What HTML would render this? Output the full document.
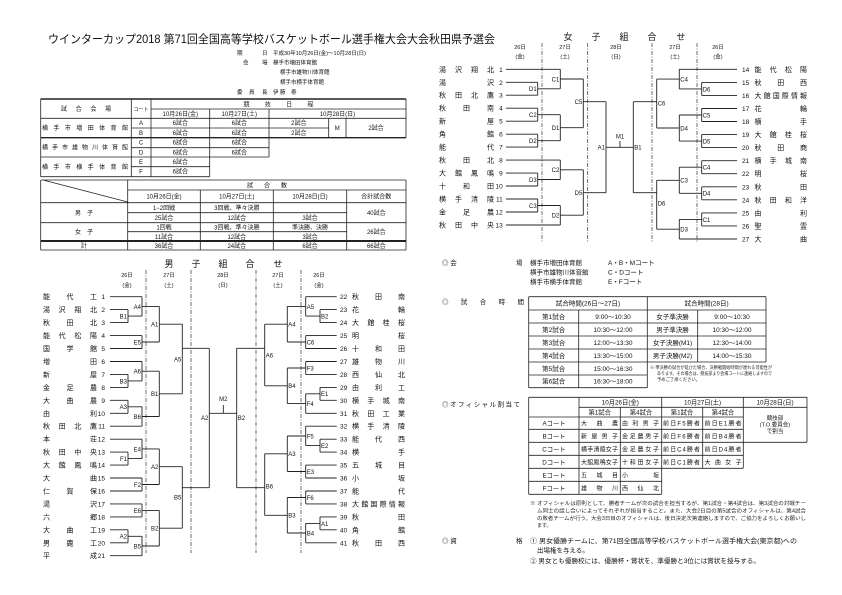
<!DOCTYPE html>
<html><head><meta charset="utf-8"><style>
html,body{margin:0;padding:0;background:#fff;}
svg{display:block;font-family:"Liberation Sans","Noto Sans CJK JP",sans-serif;}
</style></head><body>
<svg width="842" height="595" viewBox="0 0 842 595" xmlns="http://www.w3.org/2000/svg">
<rect width="842" height="595" fill="#fff"/>
<g fill="#111">
<text x="48" y="43" font-size="11.5" textLength="447" lengthAdjust="spacingAndGlyphs">ウインターカップ2018 第71回全国高等学校バスケットボール選手権大会大会秋田県予選会</text>
<g font-size="5.5">
<text x="237" y="55">期</text><text x="262" y="55">日</text><text x="273" y="55">平成30年10月26日(金)〜10月28日(日)</text>
<text x="243" y="64.5">会</text><text x="262" y="64.5">場</text><text x="273" y="64.5">横手市増田体育館</text>
<text x="280" y="74">横手市雄物川体育館</text><text x="280" y="84">横手市横手体育館</text>
<text x="237" y="94">委</text><text x="249" y="94">員</text><text x="262" y="94">長</text><text x="273" y="94">伊 藤　泰</text>
</g>
</g>

<!-- Table 1 -->
<g stroke="#222" stroke-width="0.8" fill="none">
<path d="M40.7 99H406M151 109H406M40.7 118.3H406M131.3 128H328.7M131.3 147.7H269M40.7 157H269M131.3 166.7H209.7M40.7 176.7H209.7
M40.7 99V176.7M131.3 99V176.7M151 99V176.7M209.7 109V176.7M269 109V157M328.7 118.3V137.7M346 118.3V137.7M406 99V137.7"/>
<path d="M40.7 99H406M40.7 137.7H406" stroke-width="1.4"/>
</g>
<g font-size="6" fill="#111" text-anchor="middle">
<text x="86" y="111" textLength="50" lengthAdjust="spacing">試合会場</text>
<text x="141" y="111" font-size="5">コート</text>
<text x="278.5" y="106.5" textLength="70" lengthAdjust="spacing">競技日程</text>
<text x="180.3" y="116">10月26日(金)</text><text x="239.3" y="116">10月27日(土)</text><text x="337.5" y="116">10月28日(日)</text>
<text x="141" y="125.2">A</text><text x="180.3" y="125.2">6試合</text><text x="239.3" y="125.2">6試合</text><text x="298.8" y="125.2">2試合</text>
<text x="141" y="134.8">B</text><text x="180.3" y="134.8">6試合</text><text x="239.3" y="134.8">6試合</text><text x="298.8" y="134.8">2試合</text>
<text x="337.3" y="130">M</text><text x="376" y="130">2試合</text>
<text x="141" y="144.7">C</text><text x="180.3" y="144.7">6試合</text><text x="239.3" y="144.7">6試合</text>
<text x="141" y="154.3">D</text><text x="180.3" y="154.3">6試合</text><text x="239.3" y="154.3">6試合</text>
<text x="141" y="163.8">E</text><text x="180.3" y="163.8">6試合</text>
<text x="141" y="173.7">F</text><text x="180.3" y="173.7">6試合</text>
</g>
<g font-size="6" fill="#111">
<text x="42" y="130" textLength="86" lengthAdjust="spacing">横手市増田体育館</text>
<text x="42" y="149.5" textLength="86" lengthAdjust="spacing">横手市雄物川体育館</text>
<text x="42" y="169" textLength="86" lengthAdjust="spacing">横手市横手体育館</text>
</g>

<!-- Table 2 -->
<g stroke="#222" stroke-width="0.8" fill="none">
<path d="M40.7 180H406M127.7 190H406M40.7 202.7H406M127.7 212.7H346.7M40.7 222.7H406M127.7 231.7H346.7M40.7 250H406
M40.7 180V250M127.7 180V250M406 180V250M200.3 190V250M273.3 190V250M346.7 190V250M43 180L127.7 202"/>
<path d="M40.7 241H406" stroke-width="2"/>
</g>
<g font-size="6" fill="#111" text-anchor="middle">
<text x="267" y="187.5" textLength="40" lengthAdjust="spacing">試合数</text>
<text x="164" y="198.5">10月26日(金)</text><text x="236.8" y="198.5">10月27日(土)</text><text x="310" y="198.5">10月28日(日)</text><text x="376.3" y="198.5">合計試合数</text>
<text x="84" y="215">男　子</text>
<text x="164" y="210">1−2回戦</text><text x="236.8" y="210">3回戦、準々決勝</text>
<text x="164" y="220">25試合</text><text x="236.8" y="220">12試合</text><text x="310" y="220">3試合</text><text x="376.3" y="215">40試合</text>
<text x="84" y="234">女　子</text>
<text x="164" y="229.5">1回戦</text><text x="236.8" y="229.5">3回戦、準々決勝</text><text x="310" y="229.5">準決勝、決勝</text>
<text x="164" y="239">11試合</text><text x="236.8" y="239">12試合</text><text x="310" y="239">3試合</text><text x="376.3" y="234">26試合</text>
<text x="84" y="248">計</text><text x="164" y="248">36試合</text><text x="236.8" y="248">24試合</text><text x="310" y="248">6試合</text><text x="376.3" y="248">66試合</text>
</g>

<!-- Boys bracket -->
<g stroke="#333" stroke-width="0.7" stroke-dasharray="4 1.5 1 1.5" fill="none">
<path d="M146 270V553M191 270V553M256 270V553M301 270V553"/>
<path d="M542 43V243M587.7 43V243M652 43V243M697 43V243"/>
</g>
<g font-size="9" fill="#111" text-anchor="middle">
<text x="169" y="267">男</text><text x="196" y="267">子</text><text x="223" y="267">組</text><text x="250" y="267">合</text><text x="278" y="267">せ</text>
<text x="568" y="40">女</text><text x="596" y="40">子</text><text x="624" y="40">組</text><text x="652" y="40">合</text><text x="681" y="40">せ</text>
</g>
<g font-size="5.5" fill="#111" text-anchor="middle">
<text x="127" y="277">26日</text><text x="127" y="287">(金)</text>
<text x="169" y="277">27日</text><text x="169" y="287">(土)</text>
<text x="223" y="277">28日</text><text x="223" y="287">(日)</text>
<text x="278" y="277">27日</text><text x="278" y="287">(土)</text>
<text x="319" y="277">26日</text><text x="319" y="287">(金)</text>
<text x="520" y="49">26日</text><text x="520" y="58.5">(金)</text>
<text x="565" y="49">27日</text><text x="565" y="58.5">(土)</text>
<text x="616" y="49">28日</text><text x="616" y="58.5">(日)</text>
<text x="675" y="49">27日</text><text x="675" y="58.5">(土)</text>
<text x="718" y="49">26日</text><text x="718" y="58.5">(金)</text>
</g>

<g stroke="#222" stroke-width="0.9" fill="none">
<path d="M110 296.7H142M110 309.6H128M110 322.6H128M110 335.6H142M110 348.5H142M110 361.5H142M110 374.4H128M110 387.4H128M110 400.3H128M110 413.3H128M110 426.2H142M110 439.2H142M110 452.1H128M110 465.1H128M110 478H142M110 491H142M110 503.9H142M110 516.9H142M110 529.8H128M110 542.8H128M110 555.7H142
M128 309.6V322.6M128 316.1H142M128 374.4V387.4M128 380.9H142M128 400.3V413.3M128 406.8H142M128 452.1V465.1M128 458.6H142M128 529.8V542.8M128 536.3H142
M142 296.7V316.1M142 306.4H159.3M142 335.6V348.5M142 342H159.3M142 361.5V380.9M142 371.2H159.3M142 406.8V426.2M142 416.5H159.3M142 439.2V458.6M142 448.9H159.3M142 478V491M142 484.5H159.3M142 503.9V516.9M142 510.4H159.3M142 536.3V555.7M142 546H159.3
M159.3 306.4V342M159.3 324.2H182.3M159.3 371.2V416.5M159.3 393.8H182.3M159.3 448.9V484.5M159.3 466.7H182.3M159.3 510.4V546M159.3 528.2H182.3
M182.3 324.2V393.8M182.3 348.3H209.3M182.3 466.7V528.2M182.3 487.7H209.3
M209.3 348.3V487.7M209.3 413.3H236.7M223.3 405V413.3M236.7 348.3V487.7M236.7 348.3H264.7M236.7 487.7H264.7
M264.7 324.2V385.8M264.7 324.2H287.3M264.7 385.8H287.3M264.7 453.8V515.3M264.7 453.8H287.3M264.7 515.3H287.3
M287.3 306.4V342M287.3 368V403.6M287.3 436V471.5M287.3 497.5V533
M287.3 306.4H305.7M287.3 342H305.7M287.3 368H305.7M287.3 403.6H305.7M287.3 436H305.7M287.3 471.5H305.7M287.3 497.5H305.7M287.3 533H305.7
M305.7 296.7V316.1M305.7 335.6V348.5M305.7 361.5V374.4M305.7 393.8V413.3M305.7 426.2V445.6M305.7 465.1V478M305.7 491V503.9M305.7 523.4V542.8
M305.7 316.1H320M305.7 393.8H320M305.7 445.6H320M305.7 523.4H320
M320 309.6V322.6M320 387.4V400.3M320 439.2V452.1M320 516.9V529.8
M305.7 296.7H336.7M320 309.6H336.7M320 322.6H336.7M305.7 335.6H336.7M305.7 348.5H336.7M305.7 361.5H336.7M305.7 374.4H336.7M320 387.4H336.7M320 400.3H336.7M305.7 413.3H336.7M305.7 426.2H336.7M320 439.2H336.7M320 452.1H336.7M305.7 465.1H336.7M305.7 478H336.7M305.7 491H336.7M305.7 503.9H336.7M320 516.9H336.7M320 529.8H336.7M305.7 542.8H336.7"/>
<path d="M506 69.3H560.3M506 82.3H537.7M506 95.2H537.7M506 108.2H537.7M506 121.2H537.7M506 134.2H537.7M506 147.1H537.7M506 160.1H560.3M506 173.1H537.7M506 186H537.7M506 199H537.7M506 212H537.7M506 225H560.3
M537.7 82.3V95.2M537.7 88.8H560.3M537.7 108.2V121.2M537.7 114.7H560.3M537.7 134.2V147.1M537.7 140.7H560.3M537.7 173.1V186M537.7 179.5H560.3M537.7 199V212M537.7 205.5H560.3
M560.3 69.3V88.8M560.3 79H583.3M560.3 114.7V140.7M560.3 127.7H583.3M560.3 160.1V179.5M560.3 169.8H583.3M560.3 205.5V225M560.3 215.2H583.3
M583.3 79V127.7M583.3 101.7H606M583.3 169.8V215.2M583.3 192.7H606
M606 101.7V192.7M606 147.3H633.3M620 141V147.3M633.3 101.7V192.7M633.3 101.7H656.7M633.3 192.7H656.7
M656.7 79.1V128M656.7 79.1H679.3M656.7 128H679.3M656.7 180.3V229.2M656.7 180.3H679.3M656.7 229.2H679.3
M679.3 69.3V88.9M679.3 115V141.1M679.3 167.2V193.3M679.3 219.4V239
M679.3 88.9H701.7M679.3 115H701.7M679.3 141.1H701.7M679.3 167.2H701.7M679.3 193.3H701.7M679.3 219.4H701.7
M701.7 82.4V95.4M701.7 108.5V121.5M701.7 134.6V147.6M701.7 160.7V173.7M701.7 186.8V199.8M701.7 212.9V225.9
M679.3 69.3H737M701.7 82.4H737M701.7 95.4H737M701.7 108.5H737M701.7 121.5H737M701.7 134.6H737M701.7 147.6H737M701.7 160.7H737M701.7 173.7H737M701.7 186.8H737M701.7 199.8H737M701.7 212.9H737M701.7 225.9H737M679.3 239H737"/>
</g>

<!-- bracket labels -->
<g font-size="6" fill="#111" text-anchor="end">
<text x="127" y="318.5">B1</text><text x="127" y="383.3">B3</text><text x="127" y="409.2">A3</text><text x="127" y="461">F1</text><text x="127" y="538.7">A2</text>
<text x="141" y="308.8">A4</text><text x="141" y="344.4">E5</text><text x="141" y="373.6">A6</text><text x="141" y="418.9">B6</text><text x="141" y="451.3">E4</text><text x="141" y="486.9">F2</text><text x="141" y="512.8">E6</text><text x="141" y="548.4">B5</text>
<text x="158.3" y="326.6">A1</text><text x="158.3" y="396.2">B1</text><text x="158.3" y="469.1">A2</text><text x="158.3" y="530.6">B2</text>
<text x="181.3" y="361.4">A5</text><text x="181.3" y="499.4">B5</text>
<text x="208.3" y="420">A2</text>
<text x="536.7" y="91.2">D1</text><text x="536.7" y="117.1">C2</text><text x="536.7" y="143.1">D2</text><text x="536.7" y="181.9">D3</text><text x="536.7" y="207.9">C3</text>
<text x="559.3" y="81.4">C1</text><text x="559.3" y="130.1">D1</text><text x="559.3" y="172.2">C2</text><text x="559.3" y="217.6">D2</text>
<text x="582.3" y="104.1">C5</text><text x="582.3" y="195.1">D5</text>
<text x="605" y="149.7">A1</text>
</g>
<g font-size="6" fill="#111" text-anchor="start">
<text x="237.7" y="420">B2</text>
<text x="265.7" y="357.4">A6</text><text x="265.7" y="488.4">B6</text>
<text x="288.3" y="326.6">A4</text><text x="288.3" y="388.2">B4</text><text x="288.3" y="456.2">A3</text><text x="288.3" y="517.7">B3</text>
<text x="306.7" y="308.8">A5</text><text x="306.7" y="344.4">C6</text><text x="306.7" y="370.4">F3</text><text x="306.7" y="406">F4</text><text x="306.7" y="438.4">F5</text><text x="306.7" y="473.9">E3</text><text x="306.7" y="499.9">F6</text><text x="306.7" y="535.4">B4</text>
<text x="321" y="318.5">B2</text><text x="321" y="396.2">E1</text><text x="321" y="448">E2</text><text x="321" y="525.8">A1</text>
<text x="634.3" y="149.7">B1</text>
<text x="657.7" y="105.4">C6</text><text x="657.7" y="205.4">D6</text>
<text x="680.3" y="81.5">C4</text><text x="680.3" y="130.4">D4</text><text x="680.3" y="182.7">C3</text><text x="680.3" y="231.6">D3</text>
<text x="702.7" y="91.3">D6</text><text x="702.7" y="117.4">C5</text><text x="702.7" y="143.5">D5</text><text x="702.7" y="169.6">C4</text><text x="702.7" y="195.7">D4</text><text x="702.7" y="221.8">C1</text>
</g>
<g font-size="6" fill="#111" text-anchor="middle">
<text x="223.3" y="401">M2</text><text x="620" y="138.5">M1</text>
</g>

<!-- boys left names -->
<g font-size="7" fill="#111">
<text x="43" y="299.2" textLength="54" lengthAdjust="spacing">能代工</text>
<text x="43" y="312.1" textLength="54" lengthAdjust="spacing">湯沢翔北</text>
<text x="43" y="325.1" textLength="54" lengthAdjust="spacing">秋田北</text>
<text x="43" y="338.1" textLength="54" lengthAdjust="spacing">能代松陽</text>
<text x="43" y="351" textLength="54" lengthAdjust="spacing">国学館</text>
<text x="43" y="364" textLength="54" lengthAdjust="spacing">増田</text>
<text x="43" y="376.9" textLength="54" lengthAdjust="spacing">新屋</text>
<text x="43" y="389.9" textLength="54" lengthAdjust="spacing">金足農</text>
<text x="43" y="402.8" textLength="54" lengthAdjust="spacing">大曲農</text>
<text x="43" y="415.8" textLength="54" lengthAdjust="spacing">由利</text>
<text x="43" y="428.7" textLength="54" lengthAdjust="spacing">秋田北鷹</text>
<text x="43" y="441.7" textLength="54" lengthAdjust="spacing">本荘</text>
<text x="43" y="454.6" textLength="54" lengthAdjust="spacing">秋田中央</text>
<text x="43" y="467.6" textLength="54" lengthAdjust="spacing">大館鳳鳴</text>
<text x="43" y="480.5" textLength="54" lengthAdjust="spacing">大曲</text>
<text x="43" y="493.5" textLength="54" lengthAdjust="spacing">仁賀保</text>
<text x="43" y="506.4" textLength="54" lengthAdjust="spacing">湯沢</text>
<text x="43" y="519.4" textLength="54" lengthAdjust="spacing">六郷</text>
<text x="43" y="532.3" textLength="54" lengthAdjust="spacing">大曲工</text>
<text x="43" y="545.3" textLength="54" lengthAdjust="spacing">男鹿工</text>
<text x="43" y="558.2" textLength="54" lengthAdjust="spacing">平成</text>
</g>
<g font-size="6.5" fill="#111" text-anchor="end">
<text x="105" y="299.2">1</text><text x="105" y="312.1">2</text><text x="105" y="325.1">3</text><text x="105" y="338.1">4</text><text x="105" y="351">5</text><text x="105" y="364">6</text><text x="105" y="376.9">7</text><text x="105" y="389.9">8</text><text x="105" y="402.8">9</text><text x="105" y="415.8">10</text><text x="105" y="428.7">11</text><text x="105" y="441.7">12</text><text x="105" y="454.6">13</text><text x="105" y="467.6">14</text><text x="105" y="480.5">15</text><text x="105" y="493.5">16</text><text x="105" y="506.4">17</text><text x="105" y="519.4">18</text><text x="105" y="532.3">19</text><text x="105" y="545.3">20</text><text x="105" y="558.2">21</text>
<text x="502.7" y="71.8">1</text><text x="502.7" y="84.8">2</text><text x="502.7" y="97.7">3</text><text x="502.7" y="110.7">4</text><text x="502.7" y="123.7">5</text><text x="502.7" y="136.7">6</text><text x="502.7" y="149.6">7</text><text x="502.7" y="162.6">8</text><text x="502.7" y="175.6">9</text><text x="502.7" y="188.5">10</text><text x="502.7" y="201.5">11</text><text x="502.7" y="214.5">12</text><text x="502.7" y="227.5">13</text>
</g>
<g font-size="6.5" fill="#111">
<text x="340" y="299.2">22</text><text x="340" y="312.1">23</text><text x="340" y="325.1">24</text><text x="340" y="338.1">25</text><text x="340" y="351">26</text><text x="340" y="364">27</text><text x="340" y="376.9">28</text><text x="340" y="389.9">29</text><text x="340" y="402.8">30</text><text x="340" y="415.8">31</text><text x="340" y="428.7">32</text><text x="340" y="441.7">33</text><text x="340" y="454.6">34</text><text x="340" y="467.6">35</text><text x="340" y="480.5">36</text><text x="340" y="493.5">37</text><text x="340" y="506.4">38</text><text x="340" y="519.4">39</text><text x="340" y="532.3">40</text><text x="340" y="545.3">41</text>
<text x="742" y="71.8">14</text><text x="742" y="84.9">15</text><text x="742" y="97.9">16</text><text x="742" y="111">17</text><text x="742" y="124">18</text><text x="742" y="137.1">19</text><text x="742" y="150.1">20</text><text x="742" y="163.2">21</text><text x="742" y="176.2">22</text><text x="742" y="189.3">23</text><text x="742" y="202.3">24</text><text x="742" y="215.4">25</text><text x="742" y="228.4">26</text><text x="742" y="241.5">27</text>
</g>
<g font-size="7" fill="#111">
<text x="352" y="299.2" textLength="53" lengthAdjust="spacing">秋田南</text>
<text x="352" y="312.1" textLength="53" lengthAdjust="spacing">花輪</text>
<text x="352" y="325.1" textLength="53" lengthAdjust="spacing">大館桂桜</text>
<text x="352" y="338.1" textLength="53" lengthAdjust="spacing">明桜</text>
<text x="352" y="351" textLength="53" lengthAdjust="spacing">十和田</text>
<text x="352" y="364" textLength="53" lengthAdjust="spacing">雄物川</text>
<text x="352" y="376.9" textLength="53" lengthAdjust="spacing">西仙北</text>
<text x="352" y="389.9" textLength="53" lengthAdjust="spacing">由利工</text>
<text x="352" y="402.8" textLength="53" lengthAdjust="spacing">横手城南</text>
<text x="352" y="415.8" textLength="53" lengthAdjust="spacing">秋田工業</text>
<text x="352" y="428.7" textLength="53" lengthAdjust="spacing">横手清陵</text>
<text x="352" y="441.7" textLength="53" lengthAdjust="spacing">能代西</text>
<text x="352" y="454.6" textLength="53" lengthAdjust="spacing">横手</text>
<text x="352" y="467.6" textLength="53" lengthAdjust="spacing">五城目</text>
<text x="352" y="480.5" textLength="53" lengthAdjust="spacing">小坂</text>
<text x="352" y="493.5" textLength="53" lengthAdjust="spacing">能代</text>
<text x="352" y="506.4" textLength="53" lengthAdjust="spacing">大館国際情報</text>
<text x="352" y="519.4" textLength="53" lengthAdjust="spacing">秋田</text>
<text x="352" y="532.3" textLength="53" lengthAdjust="spacing">角館</text>
<text x="352" y="545.3" textLength="53" lengthAdjust="spacing">秋田西</text>
<!-- girls left -->
<text x="439" y="71.8" textLength="55" lengthAdjust="spacing">湯沢翔北</text>
<text x="439" y="84.8" textLength="55" lengthAdjust="spacing">湯沢</text>
<text x="439" y="97.7" textLength="55" lengthAdjust="spacing">秋田北鷹</text>
<text x="439" y="110.7" textLength="55" lengthAdjust="spacing">秋田南</text>
<text x="439" y="123.7" textLength="55" lengthAdjust="spacing">新屋</text>
<text x="439" y="136.7" textLength="55" lengthAdjust="spacing">角館</text>
<text x="439" y="149.6" textLength="55" lengthAdjust="spacing">能代</text>
<text x="439" y="162.6" textLength="55" lengthAdjust="spacing">秋田北</text>
<text x="439" y="175.6" textLength="55" lengthAdjust="spacing">大館鳳鳴</text>
<text x="439" y="188.5" textLength="55" lengthAdjust="spacing">十和田</text>
<text x="439" y="201.5" textLength="55" lengthAdjust="spacing">横手清陵</text>
<text x="439" y="214.5" textLength="55" lengthAdjust="spacing">金足農</text>
<text x="439" y="227.5" textLength="55" lengthAdjust="spacing">秋田中央</text>
<!-- girls right -->
<text x="754.5" y="71.8" textLength="52.5" lengthAdjust="spacing">能代松陽</text>
<text x="754.5" y="84.9" textLength="52.5" lengthAdjust="spacing">秋田西</text>
<text x="754.5" y="97.9" textLength="52.5" lengthAdjust="spacing">大館国際情報</text>
<text x="754.5" y="111" textLength="52.5" lengthAdjust="spacing">花輪</text>
<text x="754.5" y="124" textLength="52.5" lengthAdjust="spacing">横手</text>
<text x="754.5" y="137.1" textLength="52.5" lengthAdjust="spacing">大館桂桜</text>
<text x="754.5" y="150.1" textLength="52.5" lengthAdjust="spacing">秋田商</text>
<text x="754.5" y="163.2" textLength="52.5" lengthAdjust="spacing">横手城南</text>
<text x="754.5" y="176.2" textLength="52.5" lengthAdjust="spacing">明桜</text>
<text x="754.5" y="189.3" textLength="52.5" lengthAdjust="spacing">秋田</text>
<text x="754.5" y="202.3" textLength="52.5" lengthAdjust="spacing">秋田和洋</text>
<text x="754.5" y="215.4" textLength="52.5" lengthAdjust="spacing">由利</text>
<text x="754.5" y="228.4" textLength="52.5" lengthAdjust="spacing">聖霊</text>
<text x="754.5" y="241.5" textLength="52.5" lengthAdjust="spacing">大曲</text>
</g>

<!-- Bottom right info -->
<g font-size="6.5" fill="#111">
<text x="442" y="265">◎ 会</text><text x="516" y="265">場</text>
<text x="530" y="265">横手市増田体育館</text><text x="608" y="265">A・B・Mコート</text>
<text x="530" y="274.5">横手市雄物川体育館</text><text x="608" y="274.5">C・Dコート</text>
<text x="530" y="284">横手市横手体育館</text><text x="608" y="284">E・Fコート</text>
<text x="442" y="304" textLength="82" lengthAdjust="spacing">◎試合時間</text>
<text x="442" y="406.5" textLength="78" lengthAdjust="spacing">◎オフィシャル割当て</text>
<text x="442" y="543">◎ 資</text><text x="516" y="543">格</text>
<text x="530" y="543" textLength="267" lengthAdjust="spacingAndGlyphs">① 男女優勝チームに、第71回全国高等学校バスケットボール選手権大会(東京都)への</text>
<text x="537" y="552.5">出場権を与える。</text>
<text x="530" y="563" textLength="230" lengthAdjust="spacingAndGlyphs">② 男女とも優勝校には、優勝杯・賞状を、準優勝と3位には賞状を授与する。</text>
</g>

<!-- Time table -->
<g stroke="#222" stroke-width="0.8" fill="none">
<path d="M528.7 296.7H766M528.7 310H766M528.7 323H766M528.7 336H766M528.7 349H766M528.7 362H766M528.7 375H647.3M528.7 387.7H647.3
M528.7 296.7V387.7M578.7 310V387.7M647.3 296.7V387.7M697.7 310V362M766 296.7V362"/>
</g>
<g font-size="6.5" fill="#111" text-anchor="middle">
<text x="588" y="305.5">試合時間(26日〜27日)</text><text x="706.6" y="305.5">試合時間(28日)</text>
<text x="553.7" y="318.8">第1試合</text><text x="613" y="318.8">9:00〜10:30</text><text x="672.5" y="318.8">女子準決勝</text><text x="732" y="318.8">9:00〜10:30</text>
<text x="553.7" y="331.8">第2試合</text><text x="613" y="331.8">10:30〜12:00</text><text x="672.5" y="331.8">男子準決勝</text><text x="732" y="331.8">10:30〜12:00</text>
<text x="553.7" y="344.8">第3試合</text><text x="613" y="344.8">12:00〜13:30</text><text x="672.5" y="344.8">女子決勝(M1)</text><text x="732" y="344.8">12:30〜14:00</text>
<text x="553.7" y="357.8">第4試合</text><text x="613" y="357.8">13:30〜15:00</text><text x="672.5" y="357.8">男子決勝(M2)</text><text x="732" y="357.8">14:00〜15:30</text>
<text x="553.7" y="370.8">第5試合</text><text x="613" y="370.8">15:00〜16:30</text>
<text x="553.7" y="383.6">第6試合</text><text x="613" y="383.6">16:30〜18:00</text>
</g>
<g font-size="4.3" fill="#222">
<text x="650" y="369" textLength="122" lengthAdjust="spacingAndGlyphs">※ 準決勝の試合が延びた場合、決勝戦開始時間が遅れる可能性が</text>
<text x="657" y="375" textLength="115" lengthAdjust="spacingAndGlyphs">あります。その場合は、競技部より会場コートに連絡しますので</text>
<text x="657" y="381">予めご了承ください。</text>
</g>

<!-- Officials table -->
<g stroke="#222" stroke-width="0.8" fill="none">
<path d="M528.7 397.3H807M579 407.3H807M528.7 417H743.3M528.7 429.3H743.3M528.7 442.3H807M528.7 455.3H743.3M528.7 468.3H743.3M528.7 481.3H661.7M528.7 494.3H661.7
M528.7 397.3V494.3M579 397.3V494.3M620.3 407.3V494.3M661.7 397.3V494.3M702.7 407.3V468.3M743.3 397.3V468.3M807 397.3V442.3"/>
</g>
<g font-size="6.3" fill="#111" text-anchor="middle">
<text x="620.3" y="404.6">10月26日(金)</text><text x="702.5" y="404.6">10月27日(土)</text><text x="775" y="404.6">10月28日(日)</text>
<text x="599.7" y="414.5">第1試合</text><text x="641" y="414.5">第4試合</text><text x="682" y="414.5">第1試合</text><text x="723" y="414.5">第4試合</text>
<text x="554" y="425.5">Aコート</text><text x="554" y="438.3">Bコート</text><text x="554" y="451.3">Cコート</text><text x="554" y="464.3">Dコート</text><text x="554" y="477.3">Eコート</text><text x="554" y="490.3">Fコート</text>
<text x="775" y="420" font-size="5.5">競技部</text><text x="775" y="426.5" font-size="5.5">(T.O.委員会)</text><text x="775" y="433" font-size="5.5">で割当</text>
</g>
<g font-size="6" fill="#111">
<text x="581" y="425.5" textLength="37" lengthAdjust="spacing">大曲農</text>
<text x="622" y="425.5" textLength="37" lengthAdjust="spacing">由利男子</text>
<text x="663" y="425.5" textLength="37" lengthAdjust="spacing">前日F5勝者</text>
<text x="704.5" y="425.5" textLength="37" lengthAdjust="spacing">前日E1勝者</text>
<text x="581" y="438.3" textLength="37" lengthAdjust="spacing">新屋男子</text>
<text x="622" y="438.3" textLength="37" lengthAdjust="spacing">金足農男子</text>
<text x="663" y="438.3" textLength="37" lengthAdjust="spacing">前日F6勝者</text>
<text x="704.5" y="438.3" textLength="37" lengthAdjust="spacing">前日B4勝者</text>
<text x="581" y="451.3" textLength="37" lengthAdjust="spacing">横手清陵女子</text>
<text x="622" y="451.3" textLength="37" lengthAdjust="spacing">金足農女子</text>
<text x="663" y="451.3" textLength="37" lengthAdjust="spacing">前日C4勝者</text>
<text x="704.5" y="451.3" textLength="37" lengthAdjust="spacing">前日D4勝者</text>
<text x="581" y="464.3" textLength="37" lengthAdjust="spacing">大館鳳鳴女子</text>
<text x="622" y="464.3" textLength="37" lengthAdjust="spacing">十和田女子</text>
<text x="663" y="464.3" textLength="37" lengthAdjust="spacing">前日C1勝者</text>
<text x="704.5" y="464.3" textLength="37" lengthAdjust="spacing">大曲女子</text>
<text x="581" y="477.3" textLength="37" lengthAdjust="spacing">五城目</text>
<text x="622" y="477.3" textLength="37" lengthAdjust="spacing">小坂</text>
<text x="581" y="490.3" textLength="37" lengthAdjust="spacing">雄物川</text>
<text x="622" y="490.3" textLength="37" lengthAdjust="spacing">西仙北</text>
</g>
<g font-size="5" fill="#222">
<text x="530" y="505" textLength="276" lengthAdjust="spacingAndGlyphs">※ オフィシャルは原則として、勝者チームが次の試合を担当するが、第1試合・第4試合は、第3試合の対戦チー</text>
<text x="537" y="512.5" textLength="269" lengthAdjust="spacingAndGlyphs">ム同士の話し合いによってそれぞれが担当すること。また、大会2日目の第5試合のオフィシャルは、第4試合</text>
<text x="537" y="520" textLength="269" lengthAdjust="spacingAndGlyphs">の敗者チームが行う。大会3日目のオフィシャルは、後日決定次第連絡しますので、ご協力をよろしくお願いし</text>
<text x="537" y="527">ます。</text>
</g>
</svg>
</body></html>
